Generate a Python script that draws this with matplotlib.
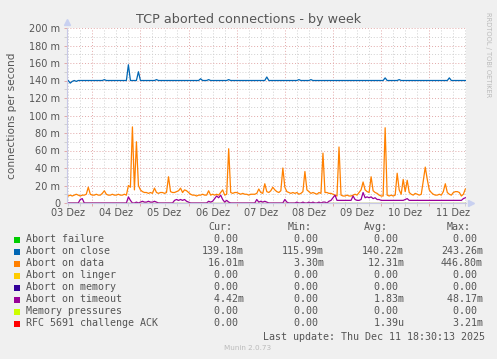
import numpy as np
import matplotlib
matplotlib.use('Agg')
import matplotlib.pyplot as plt
from matplotlib.patches import Rectangle

# ---- data (values in milli-connections per second, 1 point per hour) ----
# first point = 03 Dez 12:00
start_day = -0.5   # days relative to 04 Dez 00:00

close_m = [
    140, 137, 139, 140, 139, 140, 140, 140, 140, 140, 140, 140,
    140, 140, 140, 140, 140, 140, 141, 140, 140, 140, 140, 140,
    140, 140, 140, 140, 140, 140, 158, 140, 140, 140, 140, 150,
    140, 140, 140, 140, 140, 140, 140, 140, 141, 140, 140, 140,
    140, 140, 140, 140, 140, 140, 140, 140, 140, 140, 140, 140,
    140, 140, 140, 140, 140, 140, 142, 140, 140, 140, 141, 140,
    140, 140, 140, 140, 140, 140, 140, 140, 141, 140, 140, 140,
    140, 140, 140, 140, 140, 140, 140, 140, 140, 140, 140, 140,
    140, 140, 140, 144, 140, 140, 140, 140, 140, 140, 140, 140,
    140, 140, 140, 140, 140, 140, 140, 141, 140, 140, 140, 140,
    140, 141, 140, 140, 140, 140, 140, 140, 140, 140, 140, 140,
    140, 140, 140, 140, 140, 140, 140, 140, 140, 140, 140, 140,
    140, 140, 140, 140, 140, 140, 140, 140, 140, 140, 140, 140,
    140, 140, 143, 140, 140, 140, 140, 140, 140, 141, 140, 140,
    140, 140, 140, 140, 140, 140, 140, 140, 140, 140, 140, 140,
    140, 140, 140, 140, 140, 140, 140, 140, 140, 140, 143, 140,
    140, 140, 140, 140, 140, 140, 140,
]

data_m = [
    8, 9, 8, 9, 10, 9, 8, 9, 9, 10, 18, 10,
    9, 9, 10, 9, 9, 11, 14, 10, 9, 9, 10, 9,
    9, 10, 9, 9, 10, 9, 20, 18, 87, 15, 70, 20,
    15, 13, 12, 12, 11, 12, 11, 17, 12, 11, 12, 12,
    11, 12, 30, 13, 12, 12, 13, 14, 17, 12, 15, 14,
    12, 10, 9, 9, 8, 9, 9, 10, 9, 9, 14, 9,
    10, 9, 10, 9, 12, 15, 9, 10, 62, 12, 11, 12,
    12, 11, 10, 11, 10, 10, 9, 10, 10, 10, 11, 16,
    12, 11, 22, 13, 12, 14, 18, 15, 13, 12, 14, 40,
    18, 13, 12, 11, 12, 11, 12, 10, 11, 13, 36, 15,
    13, 11, 12, 11, 10, 12, 11, 57, 12, 12, 11, 11,
    10, 9, 8, 64, 9, 8, 8, 9, 8, 8, 9, 10,
    9, 12, 15, 24, 15, 13, 12, 30, 14, 12, 11, 9,
    8, 8, 86, 9, 8, 9, 8, 9, 34, 15, 10, 27,
    13, 26, 12, 10, 9, 11, 10, 9, 10, 25, 41, 27,
    15, 12, 10, 9, 9, 10, 9, 13, 22, 12, 10, 9,
    12, 13, 13, 12, 8, 10, 16,
]

timeout_m = [
    0, 0, 0, 0, 0, 0, 4, 5, 0, 0, 0, 0,
    0, 0, 0, 0, 0, 0, 0, 0, 0, 0, 0, 0,
    0, 0, 0, 0, 0, 0, 7, 3, 0, 0, 1, 0,
    1, 2, 1, 1, 2, 1, 1, 2, 1, 0, 0, 0,
    0, 0, 0, 0, 0, 3, 4, 3, 4, 3, 4, 2,
    1, 0, 0, 0, 0, 0, 0, 0, 0, 0, 2, 1,
    2, 5, 8, 6, 9, 4, 1, 3, 1, 0, 0, 0,
    0, 0, 0, 0, 0, 0, 0, 0, 0, 0, 4, 1,
    2, 1, 2, 1, 0, 0, 0, 0, 0, 0, 0, 0,
    4, 1, 0, 0, 0, 0, 1, 0, 0, 1, 0, 0,
    1, 0, 1, 0, 0, 1, 0, 1, 1, 0, 2, 3,
    6, 9, 3, 3, 3, 3, 3, 3, 3, 3, 8, 4,
    3, 3, 4, 12, 6, 7, 6, 7, 5, 6, 4, 4,
    3, 3, 3, 3, 3, 3, 3, 3, 3, 3, 3, 3,
    4, 5, 3, 3, 3, 3, 3, 3, 3, 3, 3, 3,
    3, 3, 3, 3, 3, 3, 3, 3, 3, 3, 3, 3,
    3, 3, 3, 3, 3, 5, 6,
]

day_labels = ['03 Dez', '04 Dez', '05 Dez', '06 Dez', '07 Dez',
              '08 Dez', '09 Dez', '10 Dez', '11 Dez']

series_names = ['Abort failure', 'Abort on close', 'Abort on data',
                'Abort on linger', 'Abort on memory', 'Abort on timeout',
                'Memory pressures', 'RFC 5691 challenge ACK']
series_colors = ['#00CC00', '#0066B3', '#FF8000', '#FFCC00',
                 '#330099', '#990099', '#CCFF00', '#FF0000']
cur_vals = ['  0.00 ', '139.18m', ' 16.01m', '  0.00 ', '  0.00 ', '  4.42m', '  0.00 ', '  0.00 ']
min_vals = ['  0.00 ', '115.99m', '  3.30m', '  0.00 ', '  0.00 ', '  0.00 ', '  0.00 ', '  0.00 ']
avg_vals = ['  0.00 ', '140.22m', ' 12.31m', '  0.00 ', '  0.00 ', '  1.83m', '  0.00 ', '  1.39u']
max_vals = ['  0.00 ', '243.26m', '446.80m', '  0.00 ', '  0.00 ', ' 48.17m', '  0.00 ', '  3.21m']

# ---- figure ----
W, H = 497, 359
fig = plt.figure(figsize=(W / 100, H / 100), dpi=100, facecolor='#F0F0F0')
txt = '#555555'


def px(x, y):
    return x / W, 1 - y / H


x0, y0, x1, y1 = 67, 28, 466, 203
ax = fig.add_axes([x0 / W, 1 - y1 / H, (x1 - x0) / W, (y1 - y0) / H])
ax.set_facecolor('white')

t = start_day + np.arange(len(data_m)) / 24.0
zeros = np.zeros(len(t))

ax.set_xlim(-0.5255, 7.763)
ax.set_ylim(0, 200)

# grid
grid_dots = (0, (1, 2))
for d in np.arange(-0.5, 7.8, 0.25):
    if abs(d - round(d)) > 1e-6:
        ax.axvline(d, color='#d0d0d0', lw=0.7, ls=grid_dots, zorder=0)
for v in range(10, 200, 20):
    ax.axhline(v, color='#d0d0d0', lw=0.7, ls=grid_dots, zorder=0)
for d in range(0, 8):
    ax.axvline(d, color='#e2a8a8', lw=0.7, ls=grid_dots, zorder=0)
for v in range(20, 201, 20):
    ax.axhline(v, color='#e2a8a8', lw=0.7, ls=grid_dots, zorder=0)

# series (drawn in munin order)
ax.plot(t, zeros, color=series_colors[0], lw=0.8)
ax.plot(t, close_m, color=series_colors[1], lw=0.9)
ax.plot(t, data_m, color=series_colors[2], lw=0.9)
ax.plot(t, zeros, color=series_colors[3], lw=0.8)
ax.plot(t, zeros, color=series_colors[4], lw=0.8)
ax.plot(t, timeout_m, color=series_colors[5], lw=0.9)
ax.plot(t, zeros, color=series_colors[6], lw=0.8)
ax.plot(t, zeros, color='#e87070', lw=0.8)

# axes
for s in ['top', 'right']:
    ax.spines[s].set_visible(False)
ax.spines['left'].set_color('#c8c8e6')
ax.spines['bottom'].set_color('#c8c8e6')
ax.spines['left'].set_linewidth(0.8)
ax.spines['bottom'].set_linewidth(0.8)
ax.plot([0], [1.035], marker='^', color='#c8d0f0', ms=4, transform=ax.transAxes, clip_on=False)
ax.plot([1.012], [0], marker='>', color='#c8d0f0', ms=4, transform=ax.transAxes, clip_on=False)

ax.set_yticks(range(0, 201, 20))
ax.set_yticklabels(['0'] + ['%d m' % v for v in range(20, 201, 20)])
ax.set_yticks(range(10, 200, 20), minor=True)
ax.set_xticks(range(0, 8))
ax.set_xticklabels([])
ax.set_xticks(np.arange(-0.5, 7.8, 0.25), minor=True)
ax.tick_params(axis='both', which='major', length=2, width=0.7, color='#e2a8a8',
               labelsize=7, labelcolor=txt, pad=3)
ax.tick_params(axis='both', which='minor', length=2, width=0.7, color='#d0d0d0')
for i, lab in enumerate(day_labels):
    ax.text(i - 0.5, -6, lab, ha='center', va='top', fontsize=7, color=txt)

# titles
fig.text(*px(249, 19), 'TCP aborted connections - by week', ha='center', va='center',
         fontsize=9.2, color=txt)
fig.text(*px(12, 116), 'connections per second', ha='center', va='center',
         rotation=90, fontsize=7.6, color=txt)
fig.text(*px(488, 55), 'RRDTOOL / TOBI OETIKER', ha='center', va='center',
         rotation=270, fontsize=4.8, color='#bbbbbb')

# legend
mono = 'DejaVu Sans Mono'
fs = 7.2
col_x = [202, 282, 362, 441]
for x, head in zip([208, 288, 364, 447], ['Cur:', 'Min:', 'Avg:', 'Max:']):
    fig.text(*px(x, 227.5), head, ha='left', va='center', family=mono, fontsize=fs, color=txt)
for i, name in enumerate(series_names):
    yy = 239.5 + i * 12
    fig.patches.append(Rectangle(px(14, yy + 3), 6 / W, 6 / H, transform=fig.transFigure,
                                 facecolor=series_colors[i], edgecolor='none'))
    fig.text(*px(26, yy), name, ha='left', va='center', family=mono, fontsize=fs, color=txt)
    for x, vals in zip(col_x, [cur_vals, min_vals, avg_vals, max_vals]):
        fig.text(*px(x, yy), vals[i], ha='left', va='center', family=mono, fontsize=fs, color=txt)

fig.text(*px(485, 336.5), 'Last update: Thu Dec 11 18:30:13 2025', ha='right', va='center',
         family=mono, fontsize=fs, color=txt)
fig.text(*px(248, 348), 'Munin 2.0.73', ha='center', va='center', fontsize=5.2, color='#bbbbbb')

fig.savefig('out.png', dpi=100, facecolor=fig.get_facecolor())
